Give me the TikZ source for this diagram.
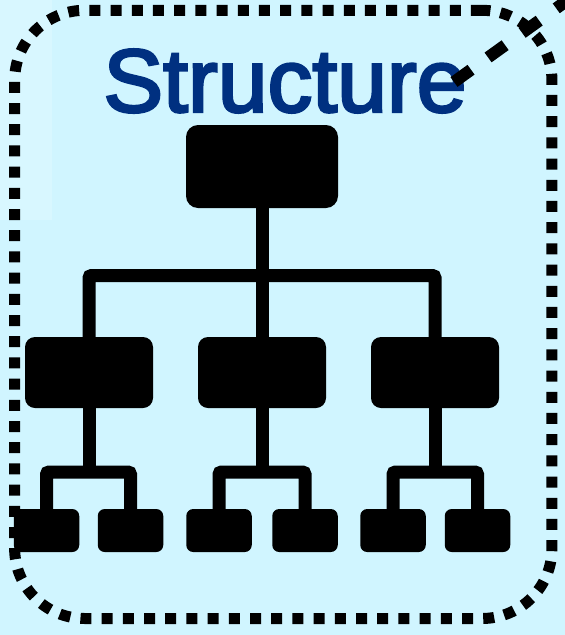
\documentclass[tikz,border=0pt]{standalone}
\usepackage{fontspec}
\setmainfont{Liberation Sans}
\newfontfamily\titlefont[FakeBold=3]{Liberation Sans}
\definecolor{panelblue}{RGB}{208,245,255}
\definecolor{paleblue}{RGB}{216,247,255}
\definecolor{titleblue}{RGB}{0,48,128}
\begin{document}
\begin{tikzpicture}[x=1pt, y=-1pt,
    bigbox/.style ={fill=black, rounded corners=12pt, inner sep=0pt, minimum width=152pt, minimum height=83pt},
    midbox/.style ={fill=black, rounded corners=10pt, inner sep=0pt, minimum width=128pt, minimum height=71pt},
    smallbox/.style ={fill=black, rounded corners=7pt, inner sep=0pt, minimum width=65.5pt, minimum height=43pt},
    branch/.style ={draw=black, line width=13pt, rounded corners=2.5pt},
    frame/.style ={draw=black, line width=11pt, rounded corners=70pt, dash pattern=on 11pt off 10.2pt, inner sep=0pt, minimum width=537.3pt, minimum height=608.2pt}]
   \useasboundingbox (0,0) rectangle (565,635);
   \fill[panelblue] (0,0) rectangle (565,635);
   \fill[paleblue] (0,0) rectangle (52,220);

   \node[frame] (F) at (283.3,314.4) {};
   \node[text=titleblue, font=\titlefont\fontsize{89.5}{89.5}\selectfont, inner sep=0pt] (T) at (285,81) {Structure};

   \coordinate (p) at (454,82);
   \coordinate (q) at (572,-3);
   \draw[black, line width=12pt, dash pattern=on 21pt off 21pt] (p) -- (q);

   \coordinate (r) at (262,275.5);
   \node[bigbox] (A) at (262,166.5) {};

   \node[midbox] (B) at (89,372.5) {};
   \node[midbox] (C) at (262,372.5) {};
   \node[midbox] (D) at (435,372.5) {};

   \node[smallbox] (B1) at (46.5,530.5) {};
   \node[smallbox] (B2) at (130.5,530.5) {};
   \node[smallbox] (C1) at (219,530.5) {};
   \node[smallbox] (C2) at (305,530.5) {};
   \node[smallbox] (D1) at (393,530.5) {};
   \node[smallbox] (D2) at (477.5,530.5) {};

   \coordinate (s) at (89,472);
   \coordinate (t) at (262,472);
   \coordinate (u) at (435,472);

   \draw[branch] (A) -- (C);
   \draw[branch] (B.north) -- (B.north |- r) -- (D.north |- r) -- (D.north);

   \draw[branch] (B) -- (s);
   \draw[branch] (C) -- (t);
   \draw[branch] (D) -- (u);

   \draw[branch] (B1.north) -- (B1.north |- s) -- (B2.north |- s) -- (B2.north);
   \draw[branch] (C1.north) -- (C1.north |- t) -- (C2.north |- t) -- (C2.north);
   \draw[branch] (D1.north) -- (D1.north |- u) -- (D2.north |- u) -- (D2.north);

 \end{tikzpicture}
\end{document}
